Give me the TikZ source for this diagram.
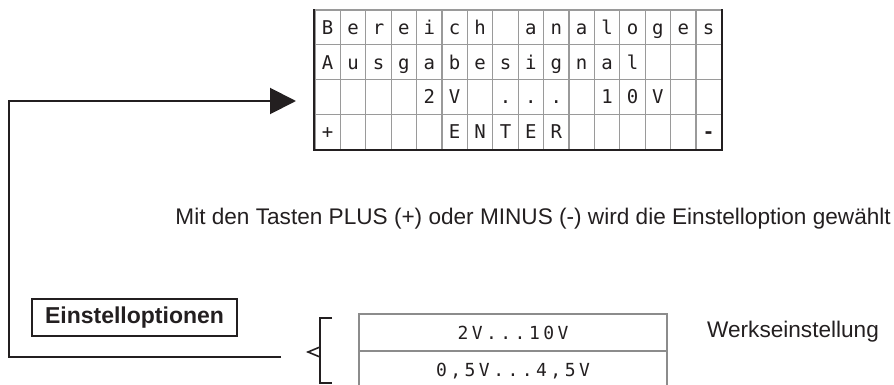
\documentclass[tikz,border=0pt]{standalone}
\usepackage{fontspec}
\setmainfont{Liberation Sans}
\newfontfamily\lcdfont{DejaVu Sans Mono}
\usetikzlibrary{arrows.meta}
\definecolor{ink}{HTML}{231F20}
\definecolor{gridgray}{HTML}{9A9A9A}
\definecolor{boxgray}{HTML}{8C8C8C}
% one fixed-pitch character of the display font
\newcommand\lcdch[1]{\makebox[14.3pt]{#1}}

\begin{document}
\begin{tikzpicture}[x=1pt,y=-1pt,
  lcdcell/.style={draw=gridgray, line width=1.3pt, minimum width=25.4pt,
    minimum height=34.8pt, inner sep=0pt, text height=17pt, text depth=3pt,
    font=\lcdfont\fontsize{19pt}{19pt}\selectfont, text=ink},
  gridframe/.style={draw=ink, line width=1.8pt},
  optcell/.style={draw=boxgray, line width=1.3pt, minimum width=308pt,
    minimum height=37pt, inner sep=0pt, text height=13pt, text depth=0pt,
    font=\lcdfont\fontsize{18pt}{18pt}\selectfont, text=ink},
  link/.style={draw=ink, line width=2pt},
  label/.style={text=ink, inner sep=0pt, font=\fontsize{22.6pt}{22.6pt}\selectfont},
  titlebox/.style={draw=ink, line width=1.6pt, minimum width=205pt,
    minimum height=37pt, inner sep=0pt, text=ink,
    font=\bfseries\fontsize{23pt}{23pt}\selectfont}]
\clip (0,0) rectangle (894,385);

% display: four rows of sixteen character cells
\foreach \c [count=\i] in {B,e,r,e,i,c,h,{},a,n,a,l,o,g,e,s}
  \node[lcdcell] (c1-\i) at ({302.3+25.4*\i},27.4) {\c};
\foreach \c [count=\i] in {A,u,s,g,a,b,e,s,i,g,n,a,l,{},{},{}}
  \node[lcdcell] (c2-\i) at ({302.3+25.4*\i},62.2) {\c};
\foreach \c [count=\i] in {{},{},{},{},2,V,{},.,.,.,{},1,0,V,{},{}}
  \node[lcdcell] (c3-\i) at ({302.3+25.4*\i},97.0) {\c};
\foreach \c [count=\i] in {+,{},{},{},{},E,N,T,E,R,{},{},{},{},{},{\bfseries -}}
  \node[lcdcell] (c4-\i) at ({302.3+25.4*\i},131.8) {\c};
\draw[gridframe] (c1-1.north west) -- (c4-1.south west)
  -- (c4-16.south east) -- (c1-16.north east);

% hint line
\node[label, anchor=base east] (hint) at (891,224)
  {Mit den Tasten PLUS (+) oder MINUS (-) wird die Einstelloption gewählt};

% settings label
\node[titlebox] (opts) at (134.5,317.5) {Einstelloptionen};

% return path from the option list back to the display
\coordinate (loopend) at (281,357);
\coordinate (arrowtip) at (296,101);
\draw[link, -{Triangle[length=26pt,width=26pt]}]
  (loopend) -- ++(-272,0) |- (arrowtip);

% bracket grouping the options
\coordinate (brtop) at (332,318);
\coordinate (brtip) at (308,352);
\draw[link, line width=1.8pt] (brtop) -- ++(-12,0) -- ++(0,65) -- ++(12,0);
\draw[link, line width=1.6pt] ([xshift=12pt,yshift=-5pt]brtip) -- (brtip)
  -- ([xshift=12pt,yshift=5pt]brtip);

% option list
\node[optcell] (opt1) at (513,332.5)
  {\lcdch{2}\lcdch{V}\lcdch{.}\lcdch{.}\lcdch{.}\lcdch{1}\lcdch{0}\lcdch{V}};
\node[optcell] (opt2) at (513,369.5)
  {\lcdch{0}\lcdch{,}\lcdch{5}\lcdch{V}\lcdch{.}\lcdch{.}\lcdch{.}\lcdch{4}\lcdch{,}\lcdch{5}\lcdch{V}};
\node[label, anchor=base west] (factory) at (707,337) {Werkseinstellung};
\end{tikzpicture}
\end{document}
